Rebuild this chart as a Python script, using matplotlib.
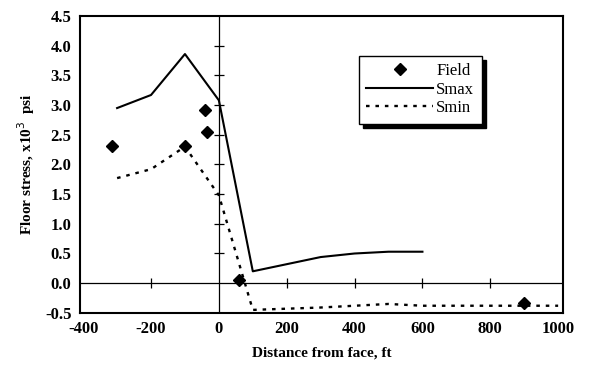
import numpy as np
import matplotlib.pyplot as plt

plt.rcParams['font.family'] = ['Liberation Serif', 'DejaVu Serif']
plt.rcParams['axes.unicode_minus'] = False

# Smax curve
smax_x = [-300, -200, -100, 0, 100, 300, 400, 500, 600]
smax_y = [2.95, 3.17, 3.86, 3.08, 0.20, 0.44, 0.50, 0.53, 0.53]

# Smin curve
smin_x = [-300, -200, -100, 0, 100, 200, 300, 400, 500, 600, 800, 1000]
smin_y = [1.77, 1.92, 2.30, 1.48, -0.45, -0.43, -0.41, -0.38, -0.35, -0.38, -0.38, -0.38]

# field measurements
field_x = [-315, -100, -40, -35, 60, 900]
field_y = [2.31, 2.31, 2.92, 2.55, 0.05, -0.33]

xticks = [-400, -200, 0, 200, 400, 600, 800, 1000]
yticks = [-0.5, 0.0, 0.5, 1.0, 1.5, 2.0, 2.5, 3.0, 3.5, 4.0, 4.5]

fig = plt.figure(figsize=(5.91, 3.82), dpi=100)
ax = fig.add_axes([0.135, 0.181, 0.818, 0.777])

ax.plot(field_x, field_y, linestyle='none', marker='D', markersize=6,
        color='black', label='Field', zorder=4)
ax.plot(smax_x, smax_y, color='black', lw=1.5, label='Smax')
ax.plot(smin_x, smin_y, color='black', lw=1.7, linestyle=(0, (1.5, 2.5)),
        label='Smin')

# zero lines with their own little tick marks
ax.axhline(0, color='black', lw=0.9)
ax.axvline(0, color='black', lw=0.9)
inner_x = [t for t in xticks if t not in (0, -400, 1000)]
inner_y = [t for t in yticks if t not in (0.0, -0.5, 4.5)]
ax.plot(inner_x, np.zeros(len(inner_x)), linestyle='none', marker='|',
        markersize=7, color='black', mew=0.9)
ax.plot(np.zeros(len(inner_y)), inner_y, linestyle='none', marker='_',
        markersize=7, color='black', mew=0.9)

ax.set_xlim(-410, 1015)
ax.set_ylim(-0.5, 4.5)
ax.set_xticks(xticks)
ax.set_yticks(yticks)
ax.set_yticklabels(['%.1f' % v for v in yticks])
ax.tick_params(length=0, labelsize=12, pad=6)
for lab in ax.get_xticklabels() + ax.get_yticklabels():
    lab.set_fontweight('bold')
for sp in ax.spines.values():
    sp.set_linewidth(1.5)

ax.set_xlabel('Distance from face, ft', fontsize=11, fontweight='bold', labelpad=7)
ax.set_ylabel('Floor stress, x10$^{3}$  psi', fontsize=11, fontweight='bold', labelpad=6)

leg = ax.legend(loc='upper left', bbox_to_anchor=(0.56, 0.895), fancybox=False,
                edgecolor='black', framealpha=1,
                shadow={'color': 'black', 'alpha': 1, 'ox': 3, 'oy': -3},
                fontsize=12, handlelength=4.0, borderpad=0.45, labelspacing=0.15,
                handletextpad=0.2)
leg.get_frame().set_linewidth(1.0)

fig.savefig('out.png', dpi=100)
